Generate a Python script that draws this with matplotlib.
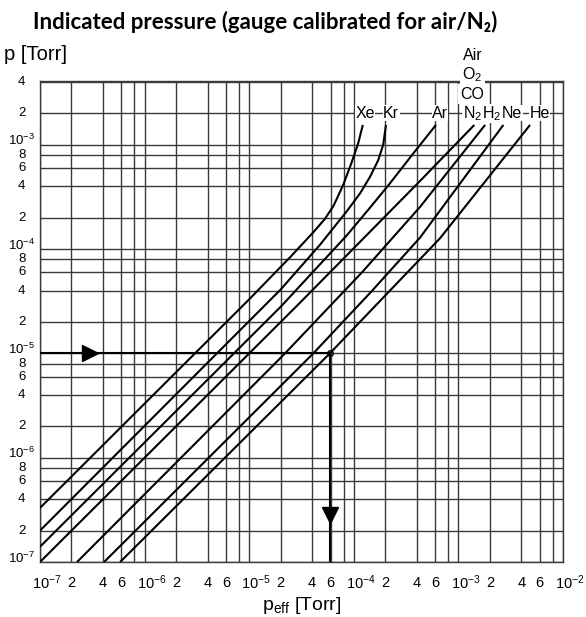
import numpy as np
import matplotlib
matplotlib.use('Agg')
from matplotlib import pyplot as plt
from matplotlib import transforms

plt.rcParams['font.family'] = ['Liberation Sans', 'DejaVu Sans']
plt.rcParams['mathtext.fontset'] = 'custom'
plt.rcParams['mathtext.rm'] = 'Liberation Sans'
plt.rcParams['mathtext.it'] = 'Liberation Sans'

# curves: effective pressure -> indicated pressure [Torr]
xe_peff = [1.0e-7, 1.0e-5, 2.5e-5, 4.1e-5, 5.3e-5, 6.4e-5, 7.9e-5, 9.5e-5, 1.1e-4, 1.22e-4]
xe_p = [3.3e-7, 3.3e-5, 8.5e-5, 1.45e-4, 1.95e-4, 2.6e-4, 4.1e-4, 6.7e-4, 1.03e-3, 1.55e-3]

kr_peff = [1.0e-7, 2.0e-5, 4.75e-5, 8.55e-5, 1.15e-4, 1.43e-4, 1.71e-4, 1.91e-4, 2.03e-4]
kr_p = [2.0e-7, 4.1e-5, 1.1e-4, 2.3e-4, 3.43e-4, 4.94e-4, 7.1e-4, 1.0e-3, 1.55e-3]

ar_peff = [1.0e-7, 2.0e-5, 8.55e-5, 1.43e-4, 2.22e-4, 3.71e-4, 6.1e-4]
ar_p = [1.4e-7, 2.8e-5, 1.35e-4, 2.5e-4, 4.28e-4, 8.28e-4, 1.55e-3]

n2_peff = [1.0e-7, 3.0e-5, 4.3e-4, 1.42e-3]
n2_p = [1.0e-7, 3.0e-5, 4.5e-4, 1.55e-3]

h2_peff = [2.26e-7, 2.2e-5, 1.2e-4, 4.3e-4, 1.8e-3]
h2_p = [1.0e-7, 1.0e-5, 6.0e-5, 2.54e-4, 1.55e-3]

ne_peff = [4.1e-7, 4.1e-5, 1.5e-4, 4.3e-4, 2.69e-3]
ne_p = [1.0e-7, 1.0e-5, 4.0e-5, 1.29e-4, 1.55e-3]

he_peff = [5.83e-7, 5.9e-5, 6.67e-4, 1.85e-3, 4.84e-3]
he_p = [1.0e-7, 1.0e-5, 1.27e-4, 4.6e-4, 1.55e-3]

curves = [(xe_peff, xe_p), (kr_peff, kr_p), (ar_peff, ar_p), (n2_peff, n2_p),
          (h2_peff, h2_p), (ne_peff, ne_p), (he_peff, he_p)]

# gas labels along the top (x position in p_eff)
label_names = ['Xe', 'Kr', 'Ar', 'N$_2$', 'H$_2$', 'Ne', 'He']
label_x = [1.28e-4, 2.27e-4, 6.67e-4, 1.36e-3, 2.1e-3, 3.25e-3, 5.96e-3]
stack_names = ['CO', 'O$_2$', 'Air']

# reading example (He)
read_p = 1.0e-5
read_peff = 5.9e-5
arrow_right_x = 3.0e-7
arrow_down_y = 2.8e-7

# grid and ticks
decades = [1e-7, 1e-6, 1e-5, 1e-4, 1e-3]
mults = [1, 2, 4, 6, 8]
x_grid = [m * d for d in decades for m in mults] + [1e-2]
y_grid = [m * d for d in decades[:-1] for m in mults] + [1e-3, 2e-3, 4e-3]
x_ticks = [m * d for d in decades for m in [1, 2, 4, 6]] + [1e-2]
x_labels = []
for e in range(-7, -2):
    x_labels += ['10$^{%d}$' % e, '2', '4', '6']
x_labels += ['10$^{-2}$']
y_ticks = y_grid
y_labels = []
for e in range(-7, -3):
    y_labels += ['10$^{%d}$' % e, '2', '4', '6', '8']
y_labels += ['10$^{-3}$', '2', '4']

fig = plt.figure(figsize=(5.86, 6.17), dpi=100)
ax = fig.add_axes([40 / 586, 55 / 617, 523 / 586, 481 / 617])
ax.set_xscale('log')
ax.set_yscale('log')
ax.set_xlim(1e-7, 1e-2)
ax.set_ylim(1e-7, 4.09e-3)

gc = '#3a3a3a'
for v in x_grid:
    ax.axvline(v, color=gc, lw=1.0, zorder=1)
for v in y_grid:
    ax.axhline(v, color=gc, lw=1.0, zorder=1)
for s in ax.spines.values():
    s.set_color(gc)
    s.set_linewidth(1.0)

for px, py in curves:
    ax.plot(px, py, color='black', lw=1.5, zorder=3, solid_capstyle='butt',
            solid_joinstyle='round')

# reading lines
ax.plot([1e-7, read_peff], [read_p, read_p], color='black', lw=1.5, zorder=3)
ax.plot([read_peff, read_peff], [read_p, 1e-7], color='black', lw=1.5, zorder=3)
ax.plot(arrow_right_x, read_p, marker='>', ms=11, color='black', zorder=4)
ax.plot(read_peff, arrow_down_y, marker='v', ms=11, color='black', zorder=4)
ax.plot(read_peff, read_p, marker='o', ms=4, mfc='none', mec='black', mew=1, zorder=4)

ax.set_xticks([])
ax.set_yticks([])
ax.minorticks_off()

dpi_tr = fig.dpi_scale_trans
x_off = transforms.ScaledTranslation(7 / 100, 0, dpi_tr)
for v, lab in zip(x_ticks, x_labels):
    tr = ax.get_xaxis_transform()
    if lab.startswith('10'):
        tr = tr + x_off
    ax.text(v, -0.043, lab, transform=tr, ha='center', va='center', fontsize=10.5)
for v, lab in zip(y_ticks, y_labels):
    tr = ax.get_yaxis_transform()
    if lab.startswith('10'):
        tr = tr + transforms.ScaledTranslation(0, 4 / 100, dpi_tr)
    ax.text(-0.035, v, lab, transform=tr, ha='center', va='center', fontsize=9.5)

box = dict(facecolor='white', edgecolor='none', pad=0.4)
for name, x in zip(label_names, label_x):
    ax.text(x, 2e-3, name, ha='center', va='center', fontsize=11.5, bbox=box, zorder=5,
            clip_on=False)
box2 = dict(facecolor='white', edgecolor='none', pad=2.0)
for i, name in enumerate(stack_names):
    ax.text(label_x[3], 2e-3 * 10 ** (0.185 * (i + 1)), name, ha='center', va='center',
            fontsize=11.5, bbox=box2, zorder=5, clip_on=False)

fig.text(4 / 586, 1 - 55 / 617, 'p [Torr]', ha='left', va='center', fontsize=14.5)
fig.text(0.515, 1 - 606 / 617, 'p$_\\mathregular{eff}$ [Torr]', ha='center', va='center',
         fontsize=14)
fig.text(0.452, 1 - 22 / 617, 'Indicated pressure (gauge calibrated for air/N\u2082)',
         ha='center', va='center', fontsize=16, fontweight='bold',
         family=['Lato', 'DejaVu Sans'])

plt.savefig('out.png', dpi=100)
